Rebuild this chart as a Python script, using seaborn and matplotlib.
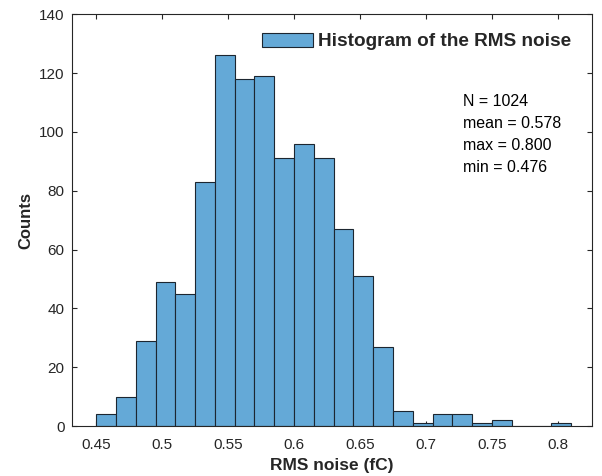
import numpy as np
import pandas as pd
import matplotlib
matplotlib.use("Agg")
import matplotlib.pyplot as plt
import seaborn as sns

# Histogram of the RMS noise per channel
bin_edges = [0.450, 0.465, 0.480, 0.495, 0.510, 0.525, 0.540, 0.555, 0.570,
             0.585, 0.600, 0.615, 0.630, 0.645, 0.660, 0.675, 0.690, 0.705,
             0.720, 0.735, 0.750, 0.765, 0.780, 0.795, 0.810]
counts = [4, 10, 29, 49, 45, 83, 126, 118, 119, 91, 96, 91, 67, 51, 27,
          5, 1, 4, 4, 1, 2, 0, 0, 1]

x_ticks = [0.45, 0.50, 0.55, 0.60, 0.65, 0.70, 0.75, 0.80]
x_tick_labels = ["0.45", "0.5", "0.55", "0.6", "0.65", "0.7", "0.75", "0.8"]
y_ticks = [0, 20, 40, 60, 80, 100, 120, 140]

stat_lines = ["N = 1024", "mean = 0.578", "max = 0.800", "min = 0.476"]

legend_label = "Histogram of the RMS noise"
x_label = "RMS noise (fC)"
y_label = "Counts"

sns.set_style("ticks")
plt.rcParams["font.family"] = ["Liberation Sans", "DejaVu Sans"]

W, H = 602, 476
fig = plt.figure(figsize=(W / 100, H / 100), dpi=100)
ax = fig.add_axes([71.5 / W, (H - 426) / H, 520.5 / W, 411.7 / H])

edges = np.array(bin_edges)
df = pd.DataFrame({"rms": (edges[:-1] + edges[1:]) / 2, "n": counts})
sns.histplot(data=df, x="rms", weights="n", bins=list(bin_edges), ax=ax,
             color="#64a9d7", alpha=1.0, edgecolor="#1c2630",
             linewidth=0.8, label=legend_label)

ax.set_xlim(0.4313, 0.8258)
ax.set_ylim(0, 140)
ax.set_xticks(x_ticks)
ax.set_xticklabels(x_tick_labels)
ax.set_yticks(y_ticks)

ink = "#262626"
for sp in ax.spines.values():
    sp.set_visible(True)
    sp.set_color(ink)
    sp.set_linewidth(0.8)
ax.tick_params(direction="in", top=True, right=True, length=3.6, width=0.8,
               color=ink, labelcolor=ink, labelsize=11)
ax.tick_params(axis="x", pad=8.5)
ax.tick_params(axis="y", pad=5)

ax.set_xlabel(x_label, fontsize=12.5, fontweight="bold", color=ink, labelpad=4.5)
ax.set_ylabel(y_label, fontsize=12, fontweight="bold", color=ink, labelpad=4)

leg = ax.legend(loc="center left", frameon=False,
                prop={"weight": "bold", "size": 13.7},
                handlelength=2.72, handleheight=0.74, handletextpad=0.24,
                borderpad=0, borderaxespad=0,
                bbox_to_anchor=(261.7 / W, 1 - 41.5 / H),
                bbox_transform=fig.transFigure)

for i, line in enumerate(stat_lines):
    fig.text(462.7 / W, 1 - (105.7 + 22.2 * i) / H, line, fontsize=11.5,
             color="black", va="baseline", ha="left")

fig.savefig("out.png", dpi=100)
